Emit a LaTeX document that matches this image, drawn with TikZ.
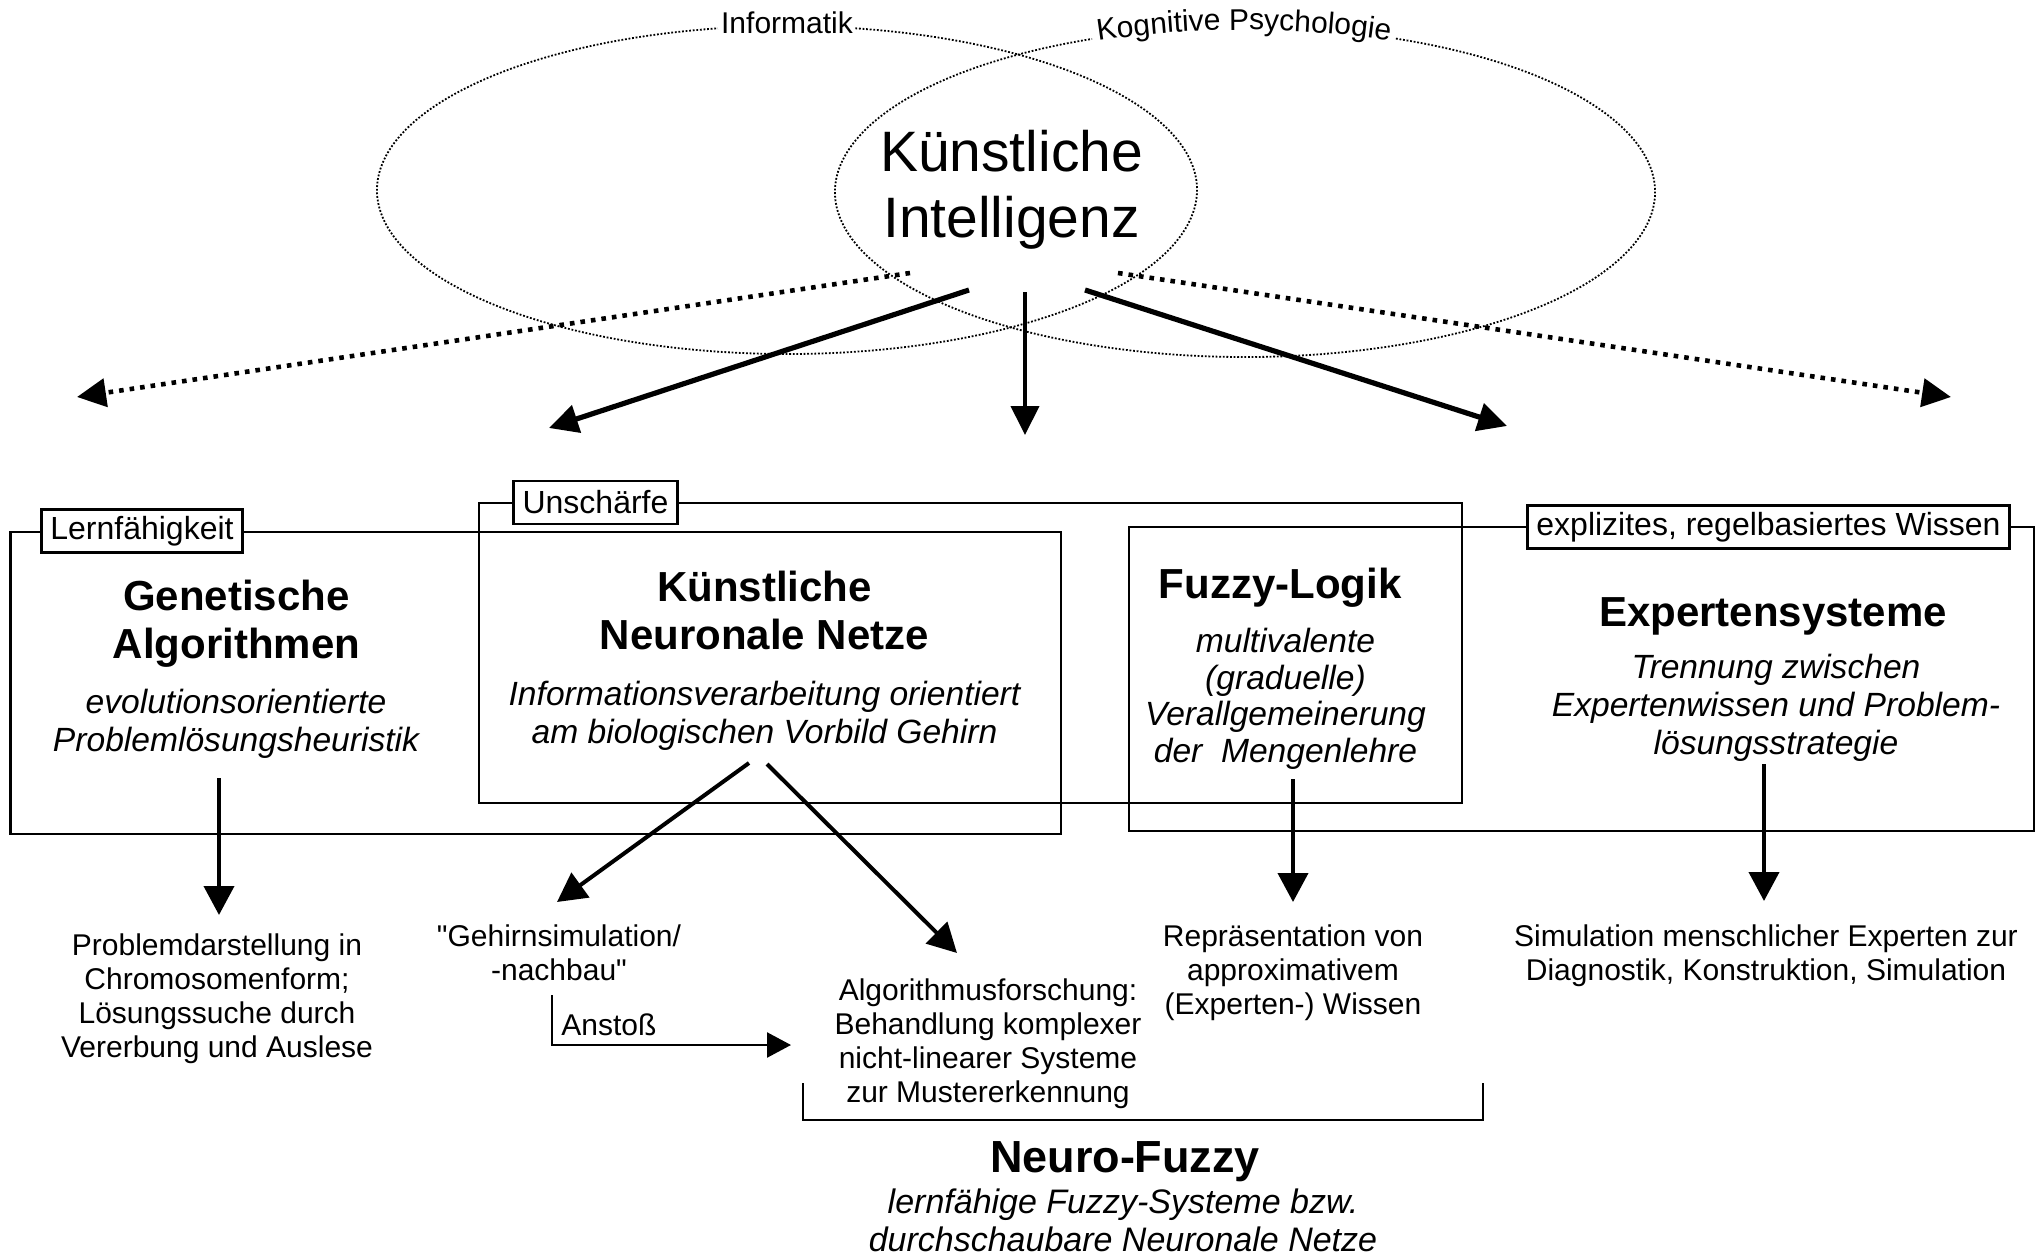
\documentclass[tikz,border=0pt]{standalone}
\usepackage{fontspec}
\setmainfont{Liberation Sans}
\newfontfamily\rawfont{Liberation Sans}[Ligatures=TeXOff]
\usetikzlibrary{arrows.meta,decorations.text}

\newcommand\setfs[2]{\fontsize{#1}{#2}\selectfont}
\newcommand\fieldfont{\setfs{15}{17}}
\newcommand\dq{{\rawfont"}}

\begin{document}
\begin{tikzpicture}[
  x=0.5pt, y=-0.5pt,
  field/.style={line width=0.9pt, dash pattern=on 0.9pt off 0.9pt},
  fieldlabel/.style={font=\fieldfont, inner sep=0pt},
  kifont/.style={font=\setfs{28.5}{32.8}, align=center, inner sep=0pt},
  ttl/.style={font=\bfseries\setfs{21}{24}, align=center, inner sep=0pt},
  sub/.style={font=\itshape\setfs{16.8}{19}, align=center, inner sep=0pt},
  low/.style={font=\setfs{15}{17}, align=center, inner sep=0pt},
  tag/.style={draw, fill=white, line width=1.35pt, font=\setfs{16}{18},
              inner xsep=4.5pt, inner ysep=0pt, minimum height=21.5pt},
  frame/.style={line width=1.35pt},
  bigtip/.style={-{Triangle[length=14.5pt, width=14pt]}},
  kiarrow/.style={bigtip, line width=2.6pt},
  kimid/.style={bigtip, line width=2pt},
  kidotted/.style={bigtip, line width=2.3pt, dash pattern=on 2.3pt off 3pt},
  downarrow/.style={-{Triangle[length=14.5pt, width=15pt]}, line width=2pt},
  impulse/.style={-{Triangle[length=12pt, width=12.5pt]}, line width=1.2pt},
  bracket/.style={line width=1.1pt}
]
\useasboundingbox (0,0) rectangle (2042,1259);

% the two overlapping fields
\draw[field] (787,190) ++(279.6:410 and 164)
  arc[start angle=279.6, end angle=620.3, x radius=410, y radius=164];
\draw[field] (1245,192) ++(291.6:410 and 165)
  arc[start angle=291.6, end angle=608.1, x radius=410, y radius=165];
\node[fieldlabel, anchor=base] (inf) at (787,33) {Informatik};
\path[decorate, decoration={text along path, text align=center, raise=-1.5pt,
      text={|\fieldfont|Kognitive Psychologie}}]
  (1245,192) ++(248.1:410 and 165)
  arc[start angle=248.1, end angle=291.6, x radius=410, y radius=165];

% (base anchor of a multi-line node = baseline of its last line)
\node[kifont, anchor=base] (ki) at (1011.5,237) {Künstliche\\Intelligenz};

% branches leaving the centre
\coordinate (kiLL) at (910,273);  \coordinate (toLL) at (77,397);
\coordinate (kiL)  at (969,290);  \coordinate (toL)  at (549,428);
\coordinate (kiM)  at (1025,292); \coordinate (toM)  at (1025,435);
\coordinate (kiR)  at (1085,290); \coordinate (toR)  at (1507,426);
\coordinate (kiRR) at (1118,273); \coordinate (toRR) at (1951,397);
\draw[kidotted] (kiLL) -- (toLL);
\draw[kiarrow]  (kiL)  -- (toL);
\draw[kimid]    (kiM)  -- (toM);
\draw[kiarrow]  (kiR)  -- (toR);
\draw[kidotted] (kiRR) -- (toRR);

% grouping frames
\draw[frame] (10.5,532) rectangle (1061,834);
\draw[frame] (479,503) rectangle (1462,803);
\draw[frame] (1129,527) rectangle (2034,831);
\node[tag] (learn) at (142,531) {Lernfähigkeit};
\node[tag] (fuzz)  at (595.5,502.5) {Unschärfe};
\node[tag] (rules) at (1768.5,527) {explizites, regelbasiertes Wissen};

% the four approaches
\node[ttl, anchor=base] (ga) at (236.5,658) {Genetische\\Algorithmen};
\node[sub, anchor=base] (gaS) at (236,751) {evolutionsorientierte\\Problemlösungsheuristik};
\node[ttl, anchor=base] (knn) at (764.5,649) {Künstliche\\Neuronale Netze};
\node[sub, anchor=base] (knnS) at (764.5,743) {Informationsverarbeitung orientiert\\am biologischen Vorbild Gehirn};
\node[ttl, anchor=base] (fl) at (1280,598) {Fuzzy-Logik};
\node[sub, anchor=base, font=\itshape\setfs{16.8}{18.25}] (flS) at (1285.5,762)
  {multivalente\\(graduelle)\\Verallgemeinerung\\der\ \ Mengenlehre};
\node[ttl, anchor=base] (es) at (1773,626) {Expertensysteme};
\node[sub, anchor=base] (esS) at (1776,754) {Trennung zwischen\\Expertenwissen und Problem-\\lösungsstrategie};

% applications
\node[low, anchor=base] (gaL) at (217,1057) {Problemdarstellung in\\Chromosomenform;\\Lösungssuche durch\\Vererbung und Auslese};
\node[low, anchor=base] (brain) at (559,980) {\dq Gehirnsimulation/\\-nachbau\dq};
\node[low, anchor=base west] (anst) at (561,1035) {Anstoß};
\node[low, anchor=base] (alg) at (988,1102) {Algorithmusforschung:\\Behandlung komplexer\\nicht-linearer Systeme\\zur Mustererkennung};
\node[low, anchor=base] (rep) at (1293,1014) {Repräsentation von\\approximativem\\(Experten-) Wissen};
\node[low, anchor=base] (sim) at (1766,980) {Simulation menschlicher Experten zur\\Diagnostik, Konstruktion, Simulation};

\coordinate (gaFrom) at (219,778);  \coordinate (gaTo) at (219,915);
\coordinate (knnFromA) at (749,763); \coordinate (knnToA) at (557,902);
\coordinate (knnFromB) at (767,764); \coordinate (knnToB) at (957,953);
\coordinate (flFrom) at (1293,779); \coordinate (flTo) at (1293,902);
\coordinate (esFrom) at (1764,764); \coordinate (esTo) at (1764,901);
\draw[downarrow] (gaFrom) -- (gaTo);
\draw[downarrow] (knnFromA) -- (knnToA);
\draw[downarrow] (knnFromB) -- (knnToB);
\draw[downarrow] (flFrom) -- (flTo);
\draw[downarrow] (esFrom) -- (esTo);

\coordinate (anstTop) at (552,995); \coordinate (anstEnd) at (791,1045);
\draw[impulse] (anstTop) |- (anstEnd);

% neuro-fuzzy bracket
\coordinate (nfL) at (803,1083); \coordinate (nfR) at (1483,1083);
\draw[bracket] (nfL) -- ++(0,37) -| (nfR);
\node[ttl, anchor=base, font=\bfseries\setfs{22.5}{24}] (nf) at (1125,1172) {Neuro-Fuzzy};
\node[sub, anchor=base, font=\itshape\setfs{17}{19}] (nfS) at (1123,1251)
  {lernfähige Fuzzy-Systeme bzw.\\durchschaubare Neuronale Netze};
\end{tikzpicture}
\end{document}
